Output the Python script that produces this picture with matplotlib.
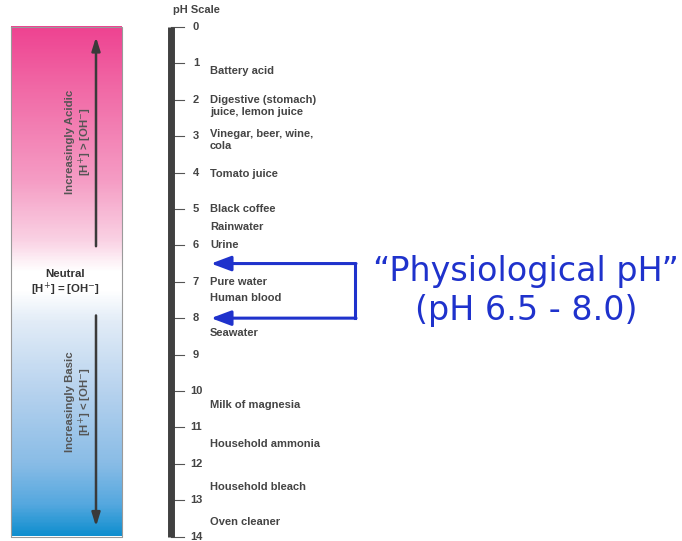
import numpy as np
import matplotlib
matplotlib.use("Agg")
import matplotlib.pyplot as plt
from matplotlib.colors import LinearSegmentedColormap

# ---- data ----
ph_ticks = list(range(0, 15))
substances = ["Battery acid", "Digestive (stomach)\njuice, lemon juice",
              "Vinegar, beer, wine,\ncola", "Tomato juice", "Black coffee",
              "Rainwater", "Urine", "Pure water", "Human blood", "Seawater",
              "Milk of magnesia", "Household ammonia", "Household bleach",
              "Oven cleaner"]
substance_ph = [1.2, 2.18, 3.1, 4.05, 5.0, 5.5, 6.0, 7.0, 7.45, 8.4,
                10.4, 11.45, 12.65, 13.6]
physio_range = [6.5, 8.0]

# ---- figure ----
W, H = 682, 541
fig = plt.figure(figsize=(W / 100, H / 100), dpi=100)
ax = fig.add_axes([0, 0, 1, 1])
px_top, px_bot = 27.0, 536.5  # pixel rows of pH 0 and pH 14
k = 14.0 / (px_bot - px_top)
ax.set_xlim(0, W)
ax.set_ylim(14 + (H - px_bot) * k, -px_top * k)
ax.axis("off")

font = "Liberation Sans"
gray = "#444444"

# gradient bar
cmap = LinearSegmentedColormap.from_list("ph", [
    (0.0, "#ee4391"), (0.12, "#f169a6"), (0.30, "#f59cc4"),
    (0.42, "#fad2e4"), (0.48, "#ffffff"), (0.52, "#ffffff"),
    (0.58, "#e2ecf7"), (0.72, "#b6d2ee"), (0.86, "#89bce6"),
    (0.94, "#55a8df"), (1.0, "#118fcf")])
grad = np.linspace(0, 1, 400).reshape(-1, 1)
ax.imshow(grad, cmap=cmap, aspect="auto", extent=[11, 122, 14.0, 0.0],
          interpolation="bilinear", zorder=1)
ax.plot([11, 122, 122, 11, 11], [0, 0, 14, 14, 0], color="#9a9a9a", lw=0.8, zorder=2)

# acidic / basic arrows
ax.annotate("", xy=(96, 0.2), xytext=(96, 6.1),
            arrowprops=dict(arrowstyle="-|>,head_length=0.8,head_width=0.25",
                            color="#3a3a3a", lw=1.8), zorder=3)
ax.annotate("", xy=(96, 13.8), xytext=(96, 7.85),
            arrowprops=dict(arrowstyle="-|>,head_length=0.8,head_width=0.25",
                            color="#3a3a3a", lw=1.8), zorder=3)
fs_side = 8.2
ax.text(70, 3.15, "Increasingly Acidic", rotation=90, ha="center", va="center",
        fontsize=fs_side, fontweight="bold", color="#555555", family=font)
ax.text(85, 3.15, "[H$^{+}$] > [OH$^{-}$]", rotation=90, ha="center", va="center",
        fontsize=fs_side, fontweight="bold", color="#555555", family=font)
ax.text(70, 10.3, "Increasingly Basic", rotation=90, ha="center", va="center",
        fontsize=fs_side, fontweight="bold", color="#555555", family=font)
ax.text(85, 10.3, "[H$^{+}$] < [OH$^{-}$]", rotation=90, ha="center", va="center",
        fontsize=fs_side, fontweight="bold", color="#555555", family=font)
ax.text(65, 6.8, "Neutral", ha="center", va="center",
        fontsize=fs_side, fontweight="bold", color="#333333", family=font)
ax.text(65, 7.22, "[H$^{+}$] = [OH$^{-}$]", ha="center", va="center",
        fontsize=fs_side, fontweight="bold", color="#333333", family=font)

# pH scale bar
ax.plot([171, 171], [0, 14], color="#404040", lw=5, solid_capstyle="butt", zorder=3)
for t in ph_ticks:
    ax.plot([171, 184], [t, t], color="#555555", lw=0.8, zorder=2)
    ax.text(196, t, str(t), ha="center", va="center", fontsize=8,
            fontweight="bold", color=gray, family=font)
ax.text(173, -0.47, "pH Scale", ha="left", va="center", fontsize=8,
        fontweight="bold", color="#444444", family=font)

for name, p in zip(substances, substance_ph):
    ax.text(210, p, name, ha="left", va="center", fontsize=8,
            fontweight="bold", color=gray, family=font, linespacing=1.25)

# physiological bracket
blue = "#1f32cc"
x_right = 355
ax.plot([x_right, x_right], physio_range, color=blue, lw=2.2, zorder=4)
for p in physio_range:
    ax.annotate("", xy=(211, p), xytext=(x_right + 1, p),
                arrowprops=dict(arrowstyle="-|>,head_length=1.2,head_width=0.45",
                                color=blue, lw=2.2, shrinkA=0, shrinkB=0), zorder=4)
ax.text(526, 6.72, "\u201cPhysiological pH\u201d", ha="center", va="center",
        fontsize=24, color=blue, family="DejaVu Sans")
ax.text(526, 7.78, "(pH 6.5 - 8.0)", ha="center", va="center",
        fontsize=24, color=blue, family="DejaVu Sans")

fig.savefig("out.png", dpi=100)
